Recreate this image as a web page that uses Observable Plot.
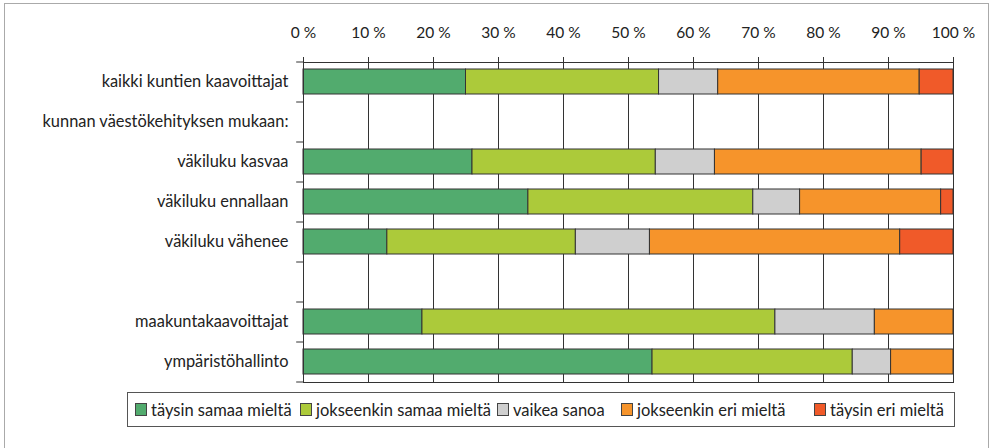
<!DOCTYPE html>
<html>
<head>
<meta charset="utf-8">
<script src="https://cdn.jsdelivr.net/npm/d3@7"></script>
<script src="https://cdn.jsdelivr.net/npm/@observablehq/plot@0.6"></script>
<style>
  html, body { margin: 0; padding: 0; background: #fff; }
  #wrap { position: relative; width: 993px; height: 448px; overflow: hidden; font-family: Lato, "Noto Sans", sans-serif; }
  #frame { position: absolute; left: 4px; top: 3px; width: 985px; height: 460px; border: 1px solid #aaa; box-sizing: border-box; }
  #legend { position: absolute; left: 127px; top: 392px; width: 828px; height: 35px; border: 1px solid #555; box-sizing: border-box; background: #fff; }
  .item { position: absolute; top: 0; height: 33px; display: flex; align-items: center; font-size: 16.5px; color: #222; white-space: nowrap; }
  .sw { width: 10px; height: 11px; border: 1px solid #444; margin-right: 4px; }
  svg { position: absolute; left: 0; top: 0; }
</style>
</head>
<body>
<div id="wrap"><div id="frame"></div></div>
<script>
const rows = ["kaikki kuntien kaavoittajat", "kunnan väestökehityksen mukaan:", "väkiluku kasvaa", "väkiluku ennallaan", "väkiluku vähenee", " ", "maakuntakaavoittajat", "ympäristöhallinto"];
const responses = ["täysin samaa mieltä", "jokseenkin samaa mieltä", "vaikea sanoa", "jokseenkin eri mieltä", "täysin eri mieltä"];
const colors = ["#52ab6e", "#acca3a", "#cfcfcf", "#f6942b", "#f05a29"];
const taysinSamaa     = [25.0, null, 26.0, 34.6, 12.9, null, 18.3, 53.7];
const jokseenkinSamaa = [29.7, null, 28.2, 34.6, 29.0, null, 54.3, 30.8];
const vaikeaSanoa     = [9.1,  null, 9.1,  7.2,  11.4, null, 15.3, 5.9];
const jokseenkinEri   = [31.0, null, 31.8, 21.7, 38.5, null, 12.1, 9.6];
const taysinEri       = [5.2,  null, 4.9,  1.9,  8.2,  null, 0,    0];
const xTicks = [0, 10, 20, 30, 40, 50, 60, 70, 80, 90, 100];

const series = [taysinSamaa, jokseenkinSamaa, vaikeaSanoa, jokseenkinEri, taysinEri];
const data = [];
rows.forEach((r, i) => {
  series.forEach((s, j) => {
    if (s[i] != null && s[i] > 0) data.push({row: r, resp: responses[j], value: s[i]});
  });
});

const chart = Plot.plot({
  width: 993,
  height: 448,
  marginTop: 62,
  marginBottom: 66,
  marginLeft: 303,
  marginRight: 40,
  style: {fontFamily: "Lato, 'Noto Sans', sans-serif", fontSize: "16px", color: "#222", background: "transparent"},
  x: {domain: [0, 100]},
  y: {domain: rows, paddingInner: 0.37, paddingOuter: 0.185},
  color: {domain: responses, range: colors},
  marks: [
    Plot.gridX(xTicks, {stroke: "#333", strokeOpacity: 1}),
    Plot.barX(data, Plot.stackX({x: "value", y: "row", fill: "resp", stroke: "#333", strokeWidth: 1, order: null})),
    Plot.frame({stroke: "#333"}),
    Plot.axisX(xTicks, {anchor: "top", tickSize: 6, tickPadding: 19, tickFormat: d => d + " %", stroke: "#333", label: null, fontSize: 15.5}),
    Plot.axisY({tickSize: 0, tickPadding: 15, label: null, fontSize: 16.4}),
    Plot.ruleY(rows, {y: d => d, x1: -1.05, x2: 0, dy: 20, stroke: "#333"}),
    Plot.ruleY(rows.slice(0, 1), {y: d => d, x1: -1.05, x2: 0, dy: -20, stroke: "#333"})
  ]
});
const wrap = document.getElementById("wrap");
wrap.appendChild(chart);

const legend = document.createElement("div");
legend.id = "legend";
const lefts = [7, 172, 369, 493, 686];
responses.forEach((r, i) => {
  const it = document.createElement("div");
  it.className = "item";
  it.style.left = lefts[i] + "px";
  const sw = document.createElement("div");
  sw.className = "sw";
  sw.style.background = colors[i];
  const t = document.createElement("span");
  t.textContent = r;
  it.appendChild(sw);
  it.appendChild(t);
  legend.appendChild(it);
});
wrap.appendChild(legend);
</script>
</body>
</html>
